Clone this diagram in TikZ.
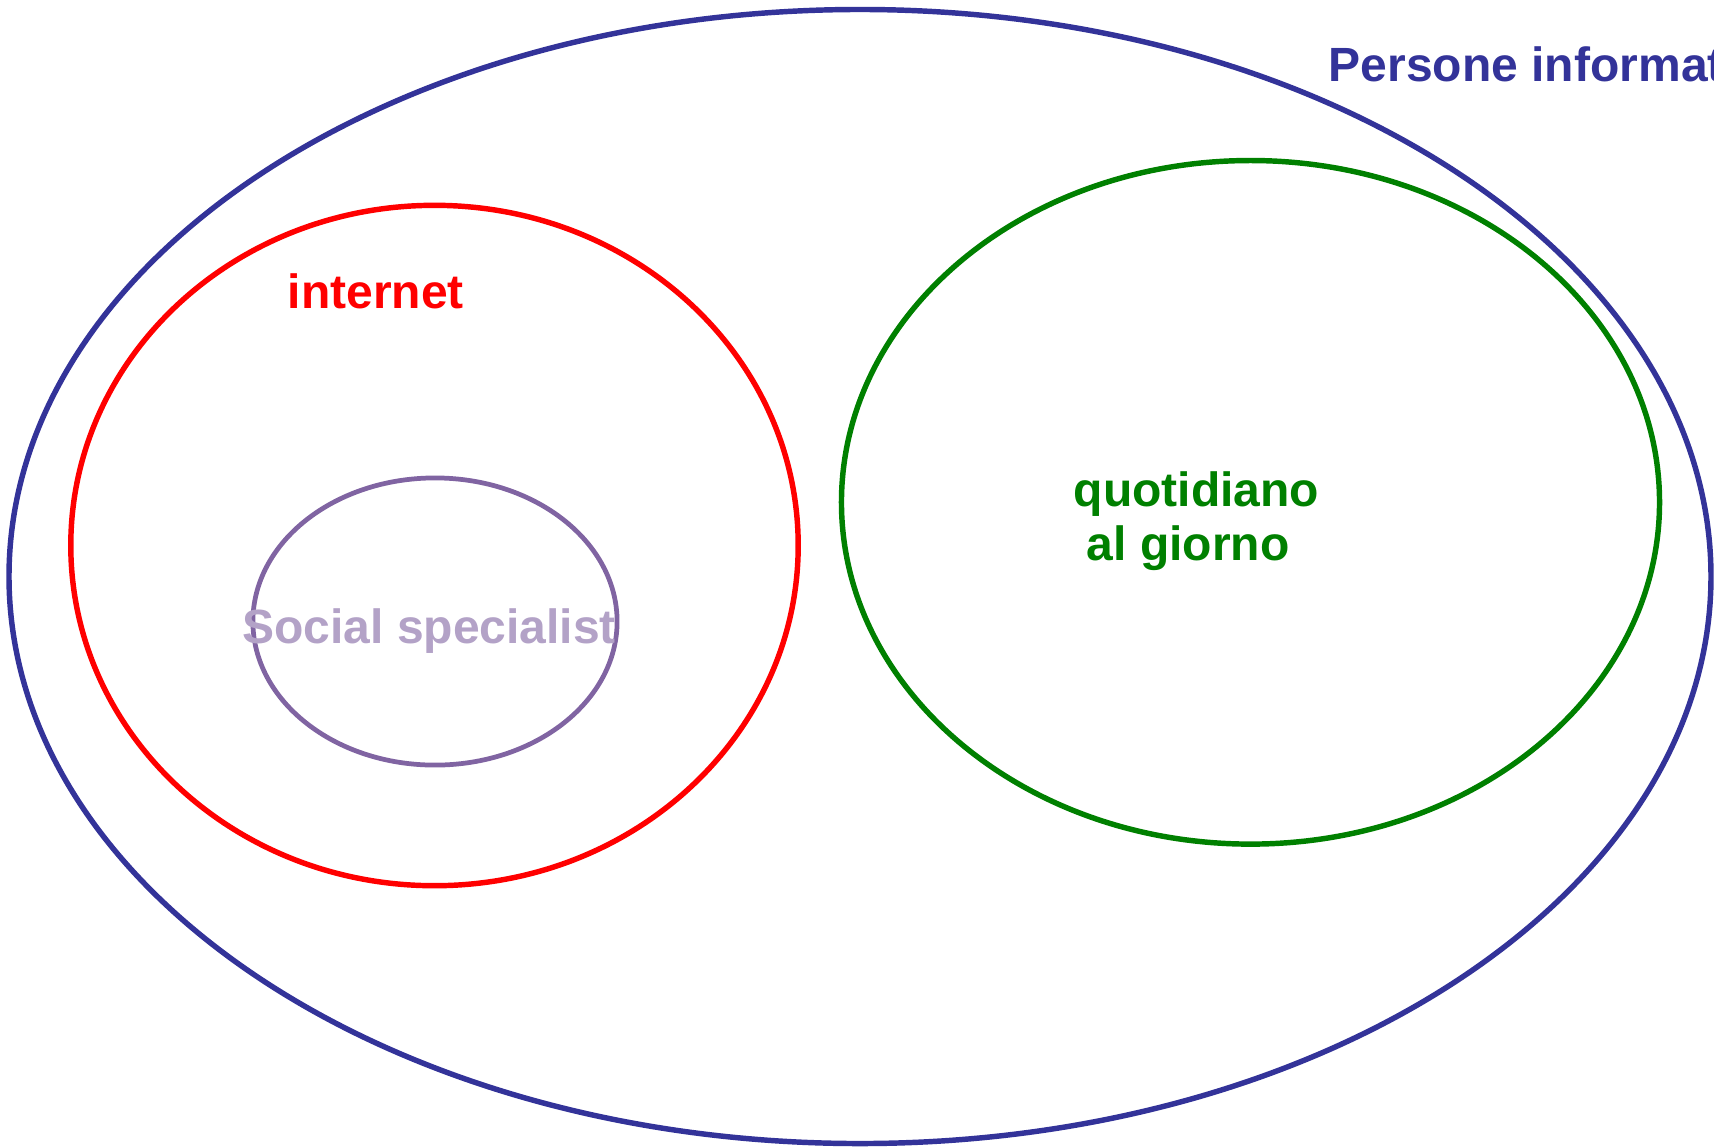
\documentclass[tikz,border=0pt]{standalone}
\usepackage{fontspec}
\setmainfont{Liberation Sans}
\definecolor{insnavy}{HTML}{333399}
\definecolor{insgreen}{HTML}{008000}
\definecolor{inspurple}{HTML}{8064A2}
\definecolor{inslilac}{HTML}{B3A2C7}
\begin{document}
\begin{tikzpicture}[x=0.01cm,y=-0.01cm,
    setline/.style={line width=1.55pt},
    lbl/.style={font=\bfseries\fontsize{13.66}{16}\selectfont,inner sep=0pt,anchor=base west}]
        \useasboundingbox (0,0) rectangle (1714,1147) ;
        % insiemi
        \draw[setline,color=insnavy] (860,576.5) ellipse [x radius=8.505cm,y radius=5.667cm] ;
        \draw[setline,color=red] (434.5,545.5) ellipse [x radius=3.635cm,y radius=3.40cm] ;
        \draw[setline,color=insgreen] (1250.5,502.3) ellipse [x radius=4.088cm,y radius=3.416cm] ;
        \draw[line width=1.35pt,color=inspurple] (435,621.5) ellipse [x radius=1.82cm,y radius=1.435cm] ;
        % etichette
        \node[lbl,text=insnavy] (persone) at (1328,81.7) {Persone informate} ;
        \node[lbl,text=red] (internet) at (287,308.3) {internet} ;
        \node[lbl,text=insgreen] (quotid) at (1073,506) {quotidiano} ;
        \node[lbl,text=insgreen] (giorno) at (1086,560) {al giorno} ;
        \node[lbl,text=inslilac] (social) at (241.5,643) {Social specialist} ;
      \end{tikzpicture}
\end{document}
